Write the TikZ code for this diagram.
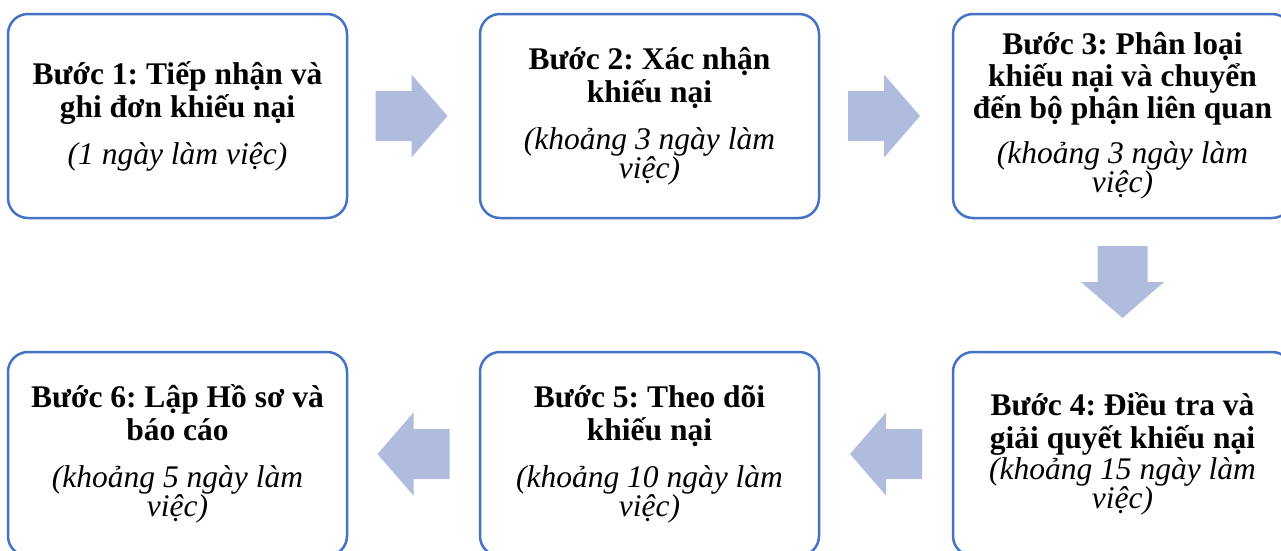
\documentclass[tikz,border=0pt]{standalone}
\usepackage{fontspec}
\setmainfont{Liberation Serif}
\usetikzlibrary{calc}
\definecolor{boxblue}{RGB}{68,114,196}
\definecolor{arrowfill}{RGB}{175,188,222}
\tikzset{
  stepbox/.style={draw=boxblue, line width=2.5pt, fill=white, rounded corners=20pt,
    minimum width=339pt, minimum height=204pt, align=center, inner sep=0pt,
    font=\fontsize{31.5}{33}\selectfont\frenchspacing},
  blockarrow/.style={fill=arrowfill, draw=none}
}
\newcommand{\bt}[1]{\textbf{#1}}
\newcommand{\itl}[1]{\textit{#1}}
\begin{document}
\frenchspacing
\begin{tikzpicture}[x=1pt,y=-1pt]
\useasboundingbox (0,0) rectangle (1281,550);
\node[stepbox] (b1) at (177.5,116) {\bt{Bước 1: Tiếp nhận và}\\\bt{ghi đơn khiếu nại}\\[14pt]\itl{(1 ngày làm việc)}};
\node[stepbox] (b2) at (649.5,116) {\bt{Bước 2: Xác nhận}\\\bt{khiếu nại}\\[14pt]\itl{(khoảng 3 ngày làm}\\[-4pt]\itl{việc)}};
\node[stepbox] (b3) at (1122.5,116) {\bt{Bước 3: Phân loại}\\[-1pt]\bt{khiếu nại và chuyển}\\[-1pt]\bt{đến bộ phận liên quan}\\[12pt]\itl{(khoảng 3 ngày làm}\\[-4pt]\itl{việc)}};
\node[stepbox] (b4) at (1122.5,454) {\bt{Bước 4: Điều tra và}\\\bt{giải quyết khiếu nại}\\[-2pt]\itl{(khoảng 15 ngày làm}\\[-4pt]\itl{việc)}};
\node[stepbox] (b5) at (649.5,454) {\bt{Bước 5: Theo dõi}\\\bt{khiếu nại}\\[14pt]\itl{(khoảng 10 ngày làm}\\[-4pt]\itl{việc)}};
\node[stepbox] (b6) at (177.5,454) {\bt{Bước 6: Lập Hồ sơ và}\\\bt{báo cáo}\\[14pt]\itl{(khoảng 5 ngày làm}\\[-4pt]\itl{việc)}};
% block arrows
\coordinate (a12) at ($(b1.east)!0.5!(b2.west)+(-2,0)$);
\coordinate (a23) at ($(b2.east)!0.5!(b3.west)+(-2,0)$);
\coordinate (a34) at ($(b3.south)!0.5!(b4.north)+(0,-3)$);
\coordinate (a45) at ($(b4.west)!0.5!(b5.east)$);
\coordinate (a56) at ($(b5.west)!0.5!(b6.east)$);
\fill[blockarrow] (a12) ++(-36,-25) -- ++(36,0) -- ++(0,-16.5) -- ++(36,41.5) -- ++(-36,41.5) -- ++(0,-16.5) -- ++(-36,0) -- cycle;
\fill[blockarrow] (a23) ++(-36,-25) -- ++(36,0) -- ++(0,-16.5) -- ++(36,41.5) -- ++(-36,41.5) -- ++(0,-16.5) -- ++(-36,0) -- cycle;
\fill[blockarrow] (a34) ++(-25,-36) -- ++(0,36) -- ++(-16.5,0) -- ++(41.5,36) -- ++(41.5,-36) -- ++(-16.5,0) -- ++(0,-36) -- cycle;
\fill[blockarrow] (a45) ++(36,-25) -- ++(-36,0) -- ++(0,-16.5) -- ++(-36,41.5) -- ++(36,41.5) -- ++(0,-16.5) -- ++(36,0) -- cycle;
\fill[blockarrow] (a56) ++(36,-25) -- ++(-36,0) -- ++(0,-16.5) -- ++(-36,41.5) -- ++(36,41.5) -- ++(0,-16.5) -- ++(36,0) -- cycle;
\end{tikzpicture}
\end{document}
